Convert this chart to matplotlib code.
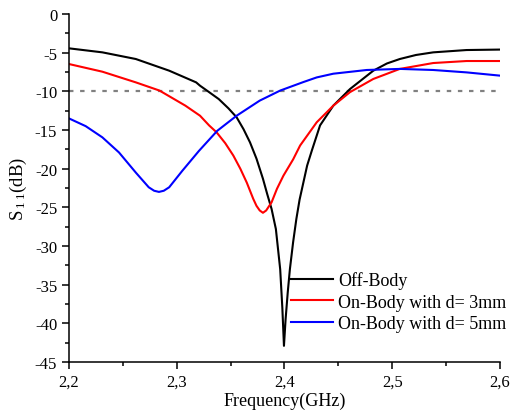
import numpy as np
import matplotlib.pyplot as plt
from matplotlib.ticker import MultipleLocator, FuncFormatter

plt.rcParams['font.family'] = ['Liberation Serif', 'DejaVu Serif']
plt.rcParams['mathtext.fontset'] = 'stix'

# values (frequency in GHz, S11 in dB)
f_off = [2.200, 2.231, 2.262, 2.293, 2.318, 2.3216, 2.329, 2.339, 2.348, 2.3556,
         2.362, 2.368, 2.374, 2.380, 2.384, 2.388, 2.392, 2.396, 2.398, 2.3995,
         2.401, 2.403, 2.405, 2.408, 2.411, 2.414, 2.4175, 2.421, 2.4255, 2.433,
         2.4453, 2.4608, 2.4824, 2.495, 2.507, 2.522, 2.538, 2.569, 2.600]
s_off = [-4.44, -4.96, -5.82, -7.33, -8.84, -9.27, -10.0, -11.0, -12.2, -13.36,
         -14.9, -16.6, -18.7, -21.3, -23.3, -25.2, -27.8, -33.0, -38.0, -42.9,
         -39.5, -36.0, -33.0, -29.5, -26.5, -24.0, -21.8, -19.6, -17.6, -14.4,
         -11.85, -9.7, -7.33, -6.4, -5.82, -5.3, -4.96, -4.66, -4.6]

f_d3 = [2.200, 2.231, 2.262, 2.284, 2.308, 2.3216, 2.330, 2.337, 2.345, 2.3525,
        2.359, 2.365, 2.371, 2.374, 2.377, 2.380, 2.383, 2.388, 2.393, 2.399,
        2.408, 2.4145, 2.4299, 2.4453, 2.4608, 2.4824, 2.507, 2.538, 2.569, 2.600]
s_d3 = [-6.47, -7.46, -8.84, -9.9, -11.85, -13.15, -14.4, -15.3, -16.7, -18.3,
        -20.0, -21.8, -23.9, -24.8, -25.4, -25.7, -25.4, -24.35, -22.6, -20.9,
        -18.8, -17.0, -14.0, -11.85, -10.1, -8.4, -7.1, -6.34, -6.08, -6.08]

f_d5 = [2.200, 2.2155, 2.231, 2.2464, 2.262, 2.274, 2.279, 2.2835, 2.288, 2.293,
        2.305, 2.3206, 2.3376, 2.3556, 2.377, 2.396, 2.4175, 2.4299, 2.4453, 2.4763,
        2.507, 2.538, 2.569, 2.600]
s_d5 = [-13.5, -14.5, -15.95, -17.9, -20.5, -22.4, -22.85, -23.0, -22.85, -22.4,
        -20.3, -17.7, -15.1, -13.15, -11.2, -9.9, -8.8, -8.2, -7.72, -7.24,
        -7.1, -7.24, -7.55, -7.97]

fig = plt.figure(figsize=(5.11, 4.14), dpi=100)
ax = fig.add_axes([0.135, 0.123, 0.8435, 0.8408])

ax.plot([2.2, 2.597], [-10, -10], color='#808080', linestyle=(0, (2, 3)), lw=1.6)
ax.plot(f_off, s_off, color='black', lw=1.5, label='Off-Body')
ax.plot(f_d3, s_d3, color='red', lw=1.5, label='On-Body with d= 3mm')
ax.plot(f_d5, s_d5, color='blue', lw=1.5, label='On-Body with d= 5mm')

ax.set_xlim(2.2, 2.6)
ax.set_ylim(-45, 0)
ax.xaxis.set_major_locator(MultipleLocator(0.1))
ax.xaxis.set_minor_locator(MultipleLocator(0.05))
ax.yaxis.set_major_locator(MultipleLocator(5))
ax.yaxis.set_minor_locator(MultipleLocator(2.5))
ax.xaxis.set_major_formatter(FuncFormatter(lambda v, p: ('%.1f' % v).replace('.', ',')))
ax.yaxis.set_major_formatter(FuncFormatter(lambda v, p: '%d' % round(v)))

for s in ['top', 'right']:
    ax.spines[s].set_visible(False)
for s in ['left', 'bottom']:
    ax.spines[s].set_linewidth(1.1)
ax.tick_params(which='major', direction='out', length=5, width=1.1, labelsize=12, colors='black')
ax.tick_params(which='minor', direction='out', length=3, width=1.1)

ax.set_xlabel('Frequency(GHz)', fontsize=13, labelpad=1)
ax.set_ylabel(r'S$\,_{\mathregular{1\,1}}$(dB)', fontsize=13.5, labelpad=4)

ax.legend(loc='lower right', bbox_to_anchor=(1.032, 0.065), frameon=False, fontsize=13,
          handlelength=2.3, handletextpad=0.3, labelspacing=0.25, borderaxespad=0)

fig.savefig('out.png', dpi=100)
